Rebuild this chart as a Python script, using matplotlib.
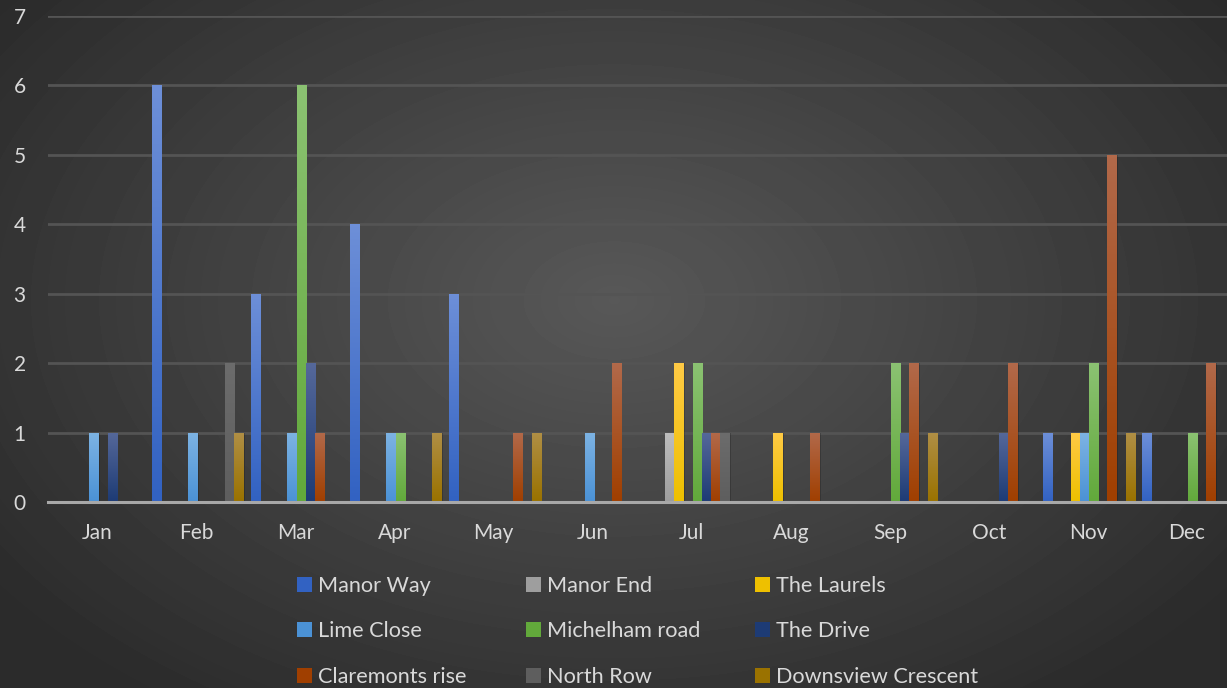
import numpy as np
import matplotlib
matplotlib.use("Agg")
import matplotlib.pyplot as plt
from matplotlib.colors import LinearSegmentedColormap
from matplotlib.patches import Patch

months = ['Jan', 'Feb', 'Mar', 'Apr', 'May', 'Jun', 'Jul', 'Aug', 'Sep', 'Oct', 'Nov', 'Dec']

manor_way = [0, 6, 3, 4, 3, 0, 0, 0, 0, 0, 1, 1]
manor_end = [0, 0, 0, 0, 0, 0, 1, 0, 0, 0, 0, 0]
the_laurels = [0, 0, 0, 0, 0, 0, 2, 1, 0, 0, 1, 0]
lime_close = [1, 1, 1, 1, 0, 1, 0, 0, 0, 0, 1, 0]
michelham_road = [0, 0, 6, 1, 0, 0, 2, 0, 2, 0, 2, 1]
the_drive = [1, 0, 2, 0, 0, 0, 1, 0, 1, 1, 0, 0]
claremonts_rise = [0, 0, 1, 0, 1, 2, 1, 1, 2, 2, 5, 2]
north_row = [0, 2, 0, 0, 0, 0, 1, 0, 0, 0, 0, 0]
downsview = [0, 1, 0, 1, 1, 0, 0, 0, 1, 0, 1, 0]

# name, values, slot in group (slot 1 is an empty series), top colour, bottom colour
series = [
    ('Manor Way', manor_way, 0, '#6d8fd8', '#3262c2'),
    ('Manor End', manor_end, 2, '#bdbdbd', '#9e9e9e'),
    ('The Laurels', the_laurels, 3, '#ffca45', '#eec000'),
    ('Lime Close', lime_close, 4, '#7db3e3', '#4b92d6'),
    ('Michelham road', michelham_road, 5, '#8bc272', '#62a93b'),
    ('The Drive', the_drive, 6, '#55689a', '#1d3b75'),
    ('Claremonts rise', claremonts_rise, 7, '#b2694a', '#a03f00'),
    ('North Row', north_row, 8, '#6c6c6c', '#5e5e5e'),
    ('Downsview Crescent', downsview, 9, '#b08f45', '#9a7200'),
]

W, H = 1227, 688
fig = plt.figure(figsize=(W / 100, H / 100), dpi=100)

# radial dark background
bg = fig.add_axes([0, 0, 1, 1])
yy, xx = np.mgrid[0:H, 0:W]
d = np.sqrt(((xx - 614) / 614.0) ** 2 + ((yy - 300) / 400.0) ** 2)
val = 0x58 - (0x58 - 0x2b) * np.clip(d / 1.25, 0, 1)
bg.imshow(val, cmap='gray', vmin=0, vmax=255, aspect='auto', interpolation='bilinear')
bg.axis('off')

ax = fig.add_axes([48 / W, 186 / H, 1188.5 / W, 486 / H])
ax.set_facecolor('none')

x = np.arange(len(months))
cat_px = 99.0
step = 9.2 / cat_px
offset = 4.5 / cat_px

grad = np.linspace(0, 1, 64).reshape(-1, 1)
handles = []
for name, vals, slot, top, bottom in series:
    left = x - 0.5 + offset + slot * step
    bars = ax.bar(left, vals, width=step, align='edge', color='none', linewidth=0, zorder=3)
    cmap = LinearSegmentedColormap.from_list(name, [bottom, top])
    for rect, v in zip(bars, vals):
        if v <= 0:
            continue
        x0 = rect.get_x()
        # soft shadow
        ax.bar(x0 + step * 0.12, v, width=step, align='edge', color='black', alpha=0.18,
               linewidth=0, zorder=2)
        im = ax.imshow(grad, cmap=cmap, origin='lower', aspect='auto',
                       extent=[x0, x0 + step, 0, v], zorder=3, interpolation='bilinear')
        im.set_clip_path(rect)
    handles.append(Patch(facecolor=bottom, edgecolor='none', label=name))

ax.set_xlim(-0.5, 11.5)
ax.set_ylim(0, 7)
ax.set_aspect('auto')

ax.set_yticks(range(0, 8))
ax.set_xticks(x)
ax.set_xticklabels(months)
ax.yaxis.grid(True, color='#545454', linewidth=2.0, zorder=0)
ax.set_axisbelow(True)
for s in ['top', 'right', 'left']:
    ax.spines[s].set_visible(False)
ax.spines['bottom'].set_color('#a8a8a8')
ax.spines['bottom'].set_linewidth(2.2)
ax.spines['bottom'].set_zorder(4)
ax.tick_params(axis='both', length=0, colors='#d9d9d9', labelsize=15)
ax.tick_params(axis='y', pad=16)
ax.tick_params(axis='x', pad=15)
for lbl in ax.get_xticklabels() + ax.get_yticklabels():
    lbl.set_fontfamily('Lato')

# legend laid out row-wise in three columns
col_x = [297, 526, 755]
for c in range(3):
    leg = fig.legend(handles=handles[c::3], loc='upper left',
                     bbox_to_anchor=(col_x[c] / W, 1 - 576 / H),
                     frameon=False, prop={'family': 'Lato', 'size': 15.6},
                     handlelength=0.7, handleheight=0.7, handletextpad=0.28,
                     labelspacing=1.17, borderpad=0, borderaxespad=0)
    for t in leg.get_texts():
        t.set_color('#d9d9d9')

fig.savefig('out.png', dpi=100)
